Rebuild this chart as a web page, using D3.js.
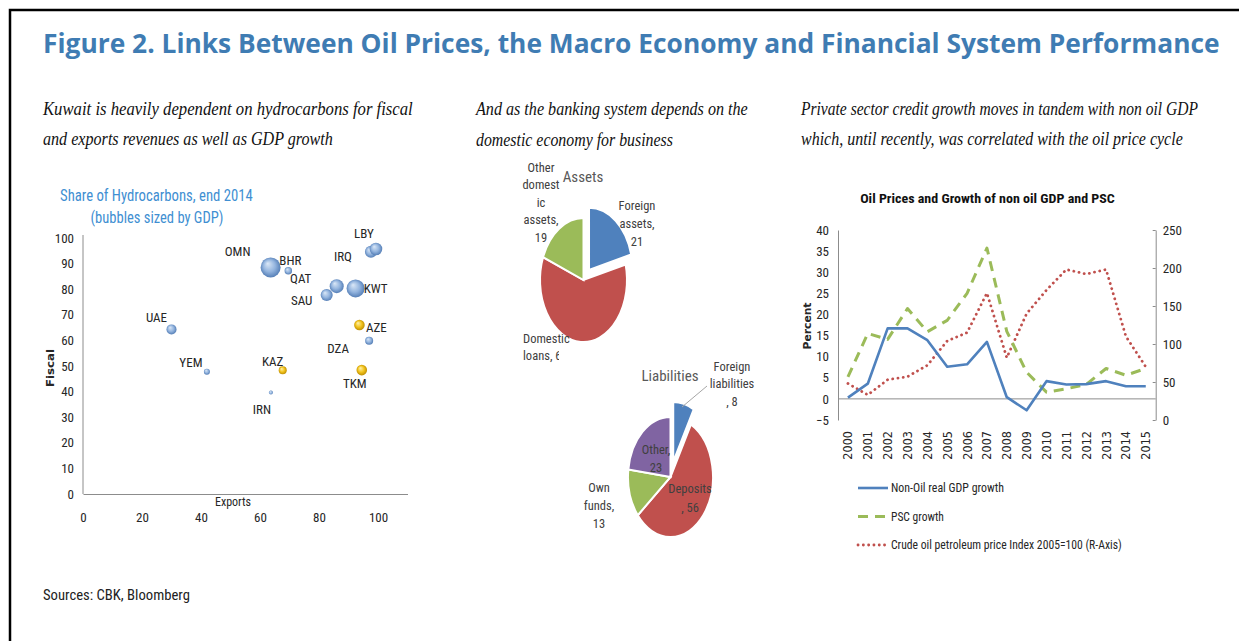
<!DOCTYPE html>
<html>
<head>
<meta charset="utf-8">
<script src="https://cdn.jsdelivr.net/npm/d3@7"></script>
<style>
	body { margin: 0; background: #fff; }
	svg { display: block; }
</style>
</head>
<body>
<svg id="fig" width="1239" height="641"></svg>
<script>
/* global d3 */
// panel 1: bubble chart data
var countries = ["UAE", "YEM", "OMN", "BHR", "IRN", "KAZ", "SAU", "QAT", "KWT", "IRQ", "LBY", "AZE", "DZA", "TKM"];
var exportsShare = [30, 42, 63.6, 69.6, 63.7, 67.7, 82.6, 86, 92.4, 97.6, 99.3, 93.7, 97, 94.5];
var fiscalShare = [64.3, 47.8, 88.5, 87.2, 39.6, 48.3, 77.7, 81.2, 80.3, 94.6, 95.7, 66, 59.9, 48.4];
var gdpSize = [25, 9, 100, 14, 4, 16, 36, 49, 81, 36, 40, 28, 16, 28];
var countryGroup = ["MENA", "MENA", "MENA", "MENA", "MENA", "CCA", "MENA", "MENA", "MENA", "MENA", "MENA", "CCA", "MENA", "CCA"];
var fiscalTicks = [0, 10, 20, 30, 40, 50, 60, 70, 80, 90, 100];
var exportTicks = [0, 20, 40, 60, 80, 100];

// panel 2: banking system pies
var assetNames = ["Foreign assets", "Domestic loans", "Other domestic assets"];
var assetValues = [21, 60, 19];
var liabilityNames = ["Foreign liabilities", "Deposits", "Own funds", "Other"];
var liabilityValues = [8, 56, 13, 23];

// panel 3: lines
var years = ["2000", "2001", "2002", "2003", "2004", "2005", "2006", "2007", "2008", "2009", "2010", "2011", "2012", "2013", "2014", "2015"];
var nonOilGdp = [0.3, 3.6, 16.7, 16.7, 13.9, 7.6, 8.2, 13.5, 0.4, -2.7, 4.2, 3.4, 3.5, 4.2, 3.0, 3.0];
var pscGrowth = [5.2, 15.5, 14.1, 21.4, 15.9, 18.6, 25, 35.7, 16, 6.3, 1.6, 2.4, 3.4, 7.2, 5.6, 7.2];
var oilIndex = [48, 33, 53, 57, 72, 104, 115, 167, 82, 140, 171, 198, 192, 198, 110, 70];
var percentTicks = [-5, 0, 5, 10, 15, 20, 25, 30, 35, 40];
var indexTicks = [0, 50, 100, 150, 200, 250];

var svg = d3.select("#fig"),
	narrow = "'Liberation Sans Narrow', 'Roboto Condensed', 'DejaVu Sans Condensed', sans-serif",
	serif = "'Liberation Serif', 'DejaVu Serif', serif",
	ink = "#262626";

function txt(g, x, y, s, size, opts) {
	opts = opts || {};
	var t = g.append("text")
		.attr("x", x)
		.attr("y", y)
		.attr("font-family", opts.family || narrow)
		.attr("font-size", size)
		.attr("fill", opts.fill || ink)
		.attr("text-anchor", opts.anchor || "start")
		.attr("dominant-baseline", "central")
		.text(s);
	if (opts.weight) { t.attr("font-weight", opts.weight); }
	if (opts.style) { t.attr("font-style", opts.style); }
	if (opts.rotate) {
		if (opts.len) { t.attr("textLength", opts.len).attr("lengthAdjust", "spacingAndGlyphs"); }
		t.attr("transform", "rotate(" + opts.rotate + "," + x + "," + y + ")");
	} else if (opts.len) {
		// squeeze or stretch round the anchor point to the width seen in the picture
		var sx = opts.len / t.node().getComputedTextLength();
		t.attr("transform", "translate(" + x + ",0) scale(" + sx + ",1) translate(" + (-x) + ",0)");
	}
	return t;
}

// frame and headings
svg.append("path")
	.attr("d", "M10,641V10H1239")
	.attr("fill", "none")
	.attr("stroke", "#000")
	.attr("stroke-width", 2.5);

txt(svg, 43, 43, "Figure 2. Links Between Oil Prices, the Macro Economy and Financial System Performance", 26.5,
	{family: "'Open Sans', 'Noto Sans', sans-serif", weight: "bold", fill: "#3f7cb3", len: 1177});

var subs = [
	[43, "Kuwait is heavily dependent on hydrocarbons for fiscal", 370, "and exports revenues as well as GDP growth", 290],
	[476, "And as the banking system depends on the", 272, "domestic economy for business", 197],
	[801, "Private sector credit growth moves in tandem with non oil GDP", 397, "which, until recently, was correlated with the oil price cycle", 382]
];
subs.forEach(function(s) {
	txt(svg, s[0], 109, s[1], 19, {family: serif, style: "italic", fill: "#111", len: s[2]});
	txt(svg, s[0], 139, s[3], 19, {family: serif, style: "italic", fill: "#111", len: s[4]});
});

txt(svg, 43, 595, "Sources: CBK, Bloomberg", 15, {fill: "#222", len: 147});

// ---------- panel 1: bubbles ----------
(function() {
	var g = svg.append("g"),
		x = d3.scaleLinear().domain([0, 110]).range([83, 407.5]),
		y = d3.scaleLinear().domain([0, 100]).range([494, 238]),
		r = d3.scaleSqrt().domain([0, d3.max(gdpSize)]).range([0, 10]),
		labelOffset = {
			UAE: [-15, -12], YEM: [-16, -9], OMN: [-33, -16], BHR: [2, -10], IRN: [-9, 17],
			KAZ: [-10, -9], SAU: [-25, 5], QAT: [-36, -8], KWT: [20, 0], IRQ: [-28, 5],
			LBY: [-12, -16], AZE: [17, 2], DZA: [-31, 8], TKM: [-7, 13]
		},
		defs = svg.append("defs");

	[["MENA", "#dbe8f7", "#93b4de", "#4b76b0"], ["CCA", "#fff3b0", "#f1c21b", "#b58600"]].forEach(function(c) {
		var grad = defs.append("radialGradient")
			.attr("id", "ball-" + c[0])
			.attr("cx", "50%").attr("cy", "50%").attr("r", "55%")
			.attr("fx", "35%").attr("fy", "30%");
		grad.append("stop").attr("offset", "0%").attr("stop-color", c[1]);
		grad.append("stop").attr("offset", "55%").attr("stop-color", c[2]);
		grad.append("stop").attr("offset", "100%").attr("stop-color", c[3]);
	});

	txt(g, 60, 195, "Share of Hydrocarbons, end 2014", 17, {fill: "#3f8fd2", len: 193});
	txt(g, 157, 217, "(bubbles sized by GDP)", 17, {fill: "#3f8fd2", anchor: "middle", len: 133});

	var ya = g.append("g")
		.attr("transform", "translate(83,0)")
		.call(d3.axisLeft(y).tickValues(fiscalTicks).tickSize(0).tickPadding(9));
	var xa = g.append("g")
		.attr("transform", "translate(0,494)")
		.call(d3.axisBottom(x).tickValues(exportTicks).tickSize(0).tickPadding(19));
	[ya, xa].forEach(function(a) {
		a.select(".domain").attr("stroke", "#8c8c8c");
		a.selectAll("text").attr("font-family", narrow).attr("font-size", 13).attr("fill", ink);
	});
	ya.select(".domain").attr("d", "M0,235V494");

	txt(g, 233, 502, "Exports", 12, {anchor: "middle"});
	txt(g, 50, 368, "Fiscal", 11, {weight: "bold", anchor: "middle", rotate: -90, len: 38,
		family: "'DejaVu Sans', sans-serif"});

	var idx = d3.range(countries.length);
	g.append("g").selectAll("circle")
		.data(idx)
		.join("circle")
		.attr("cx", function(i) { return x(exportsShare[i]); })
		.attr("cy", function(i) { return y(fiscalShare[i]); })
		.attr("r", function(i) { return r(gdpSize[i]); })
		.attr("fill", function(i) { return "url(#ball-" + countryGroup[i] + ")"; });

	idx.forEach(function(i) {
		var o = labelOffset[countries[i]];
		txt(g, x(exportsShare[i]) + o[0], y(fiscalShare[i]) + o[1], countries[i], 13, {anchor: "middle"});
	});
})();

// ---------- panel 2: pies ----------
var colors = ["#4f81bd", "#c0504d", "#9bbb59", "#8064a2"];

function drawPie(names, values, cfg) {
	var g = svg.append("g"),
		pie = d3.pie().sort(null)(values),
		arc = d3.arc().innerRadius(0).outerRadius(cfg.rx),
		inner = g.append("g")
			.attr("transform", "translate(" + cfg.cx + "," + cfg.cy + ") scale(1," + (cfg.ry / cfg.rx) + ")");

	inner.selectAll("path")
		.data(pie)
		.join("path")
		.attr("d", arc)
		.attr("fill", function(d, i) { return colors[i]; })
		.attr("stroke", "#fff")
		.attr("stroke-width", 2)
		.attr("vector-effect", "non-scaling-stroke")
		.attr("transform", function(d, i) {
			if (i !== 0) { return null; }
			var m = (d.startAngle + d.endAngle) / 2;
			return "translate(" + (Math.sin(m) * cfg.explode) + "," + (-Math.cos(m) * cfg.explode) + ")";
		});

	txt(g, cfg.title[0], cfg.title[1], cfg.title[2], 15, {fill: "#595959", anchor: "middle"});

	cfg.labels.forEach(function(l, i) {
		var lab = g.append("g").attr("data-name", names[i]);
		l.lines.forEach(function(s, k) {
			var t = txt(lab, l.x, l.y + k * l.lh, s.replace("{v}", values[i]), 12.5,
				{fill: "#404040", anchor: l.anchor || "middle"});
			// the picture cuts the value of this label at the plot edge
			if (l.clip && s.indexOf("{v}") > -1) {
				var id = "clip-" + i + "-" + Math.round(cfg.cx);
				g.append("clipPath").attr("id", id)
					.append("rect").attr("x", 0).attr("y", 0).attr("width", l.clip).attr("height", 641);
				t.attr("clip-path", "url(#" + id + ")");
			}
		});
	});
	return g;
}

drawPie(assetNames, assetValues, {
	cx: 583.5, cy: 280, rx: 43.5, ry: 62, explode: 9,
	title: [583, 177, "Assets"],
	labels: [
		{lines: ["Foreign", "assets,", "{v}"], x: 637, y: 205, lh: 18},
		{lines: ["Domestic", "loans, {v}"], x: 523, y: 338, lh: 17.5, anchor: "start", clip: 559},
		{lines: ["Other", "domest", "ic", "assets,", "{v}"], x: 541, y: 167, lh: 17.6}
	]
});

var liab = drawPie(liabilityNames, liabilityValues, {
	cx: 670.5, cy: 477, rx: 42.5, ry: 60, explode: 11,
	title: [670, 376, "Liabilities"],
	labels: [
		{lines: ["Foreign", "liabilities", ", {v}"], x: 732, y: 366, lh: 17.5},
		{lines: ["Deposits", ", {v}"], x: 690, y: 488, lh: 19},
		{lines: ["Own", "funds,", "{v}"], x: 599, y: 487, lh: 18},
		{lines: ["Other,", "{v}"], x: 656, y: 449, lh: 18}
	]
});
liab.append("line")
	.attr("x1", 707).attr("y1", 386).attr("x2", 682).attr("y2", 407)
	.attr("stroke", "#a6a6a6").attr("stroke-width", 1);

// ---------- panel 3: lines ----------
(function() {
	var g = svg.append("g"),
		left = 838, right = 1155.7,
		x = d3.scalePoint().domain(years).range([left, right]).padding(0.5),
		yL = d3.scaleLinear().domain([-5, 40]).range([420, 230]),
		yR = d3.scaleLinear().domain([0, 250]).range([420, 230]);

	txt(g, 987.5, 198, "Oil Prices and Growth of non oil GDP and PSC", 13.5, {weight: "bold", anchor: "middle", fill: "#111", len: 255});

	var la = g.append("g")
		.attr("transform", "translate(" + left + ",0)")
		.call(d3.axisLeft(yL).tickValues(percentTicks).tickSize(0).tickPadding(9));
	var ra = g.append("g")
		.attr("transform", "translate(" + right + ",0)")
		.call(d3.axisRight(yR).tickValues(indexTicks).tickSize(-3).tickSizeOuter(0).tickPadding(7));
	[la, ra].forEach(function(a) {
		a.select(".domain").attr("stroke", "#8c8c8c");
		a.selectAll("line").attr("stroke", "#8c8c8c");
		a.selectAll("text").attr("font-family", narrow).attr("font-size", 13).attr("fill", ink);
	});

	g.append("line")
		.attr("x1", left).attr("x2", right)
		.attr("y1", yL(0)).attr("y2", yL(0))
		.attr("stroke", "#8c8c8c");

	years.forEach(function(yr) {
		txt(g, x(yr), 431, yr, 12.5, {anchor: "end", rotate: -90, family: "'DejaVu Sans Condensed', " + narrow});
	});

	txt(g, 807, 326, "Percent", 11, {weight: "bold", anchor: "middle", rotate: -90, len: 47,
		family: "'DejaVu Sans', sans-serif"});

	var series = [
		{vals: oilIndex, y: yR, color: "#c0504d", width: 2.8, dash: "0.1,5.2", cap: "round",
			name: "Crude oil petroleum price Index 2005=100 (R-Axis)", len: 231},
		{vals: pscGrowth, y: yL, color: "#9bbb59", width: 3, dash: "10,7", cap: "butt",
			name: "PSC growth", len: 53},
		{vals: nonOilGdp, y: yL, color: "#4f81bd", width: 2.6, dash: null, cap: "butt",
			name: "Non-Oil real GDP growth", len: 113}
	];
	series.forEach(function(s) {
		var line = d3.line()
			.x(function(d, i) { return x(years[i]); })
			.y(function(d) { return s.y(d); });
		g.append("path")
			.datum(s.vals)
			.attr("fill", "none")
			.attr("stroke", s.color)
			.attr("stroke-width", s.width)
			.attr("stroke-dasharray", s.dash)
			.attr("stroke-linecap", s.cap)
			.attr("stroke-linejoin", "round")
			.attr("d", line);
	});

	// legend, listed top to bottom
	series.slice().reverse().forEach(function(s, i) {
		var ly = 488 + i * 28.5;
		g.append("line")
			.attr("x1", 858).attr("x2", 888)
			.attr("y1", ly).attr("y2", ly)
			.attr("stroke", s.color)
			.attr("stroke-width", s.width)
			.attr("stroke-dasharray", s.dash)
			.attr("stroke-linecap", s.cap);
		txt(g, 891, ly, s.name, 12.5, {len: s.len});
	});
})();
</script>
</body>
</html>
